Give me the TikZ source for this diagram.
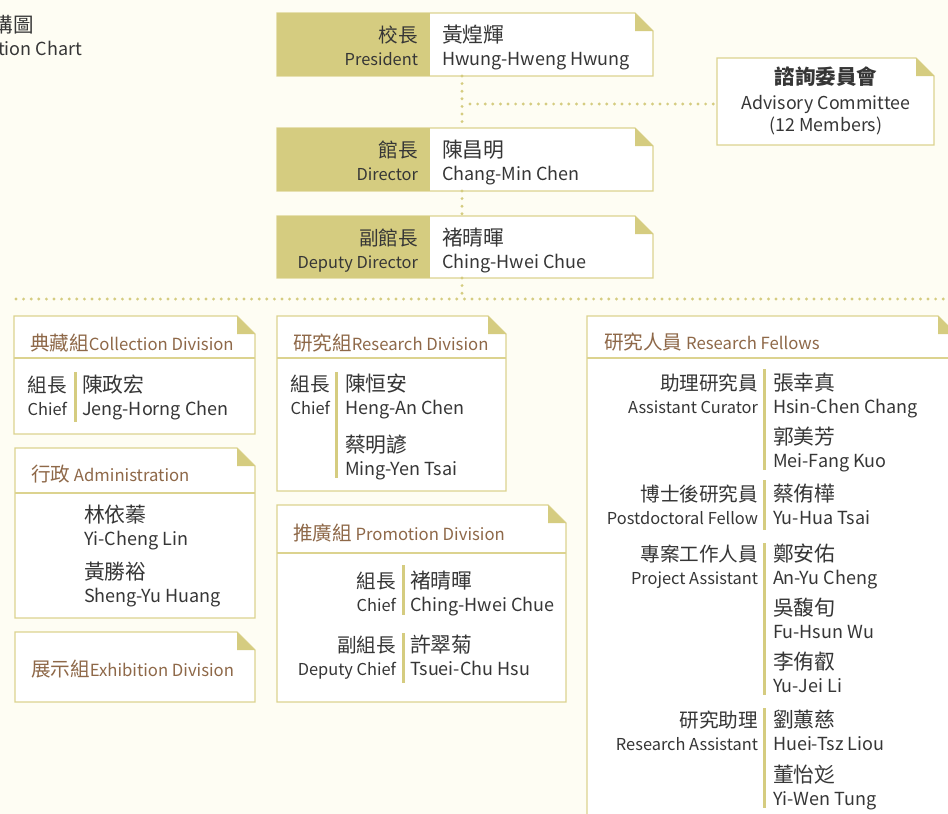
\documentclass[tikz,border=0pt]{standalone}
\usepackage{fontspec}
\setmainfont{Noto Sans CJK TC}
\definecolor{bg}{HTML}{FEFDF3}
\definecolor{khaki}{HTML}{D5CC80}
\definecolor{boxc}{HTML}{DCD38F}
\definecolor{ink}{HTML}{363636}
\definecolor{headc}{HTML}{8E6848}
\tikzset{
  boxnode/.style={rectangle, draw=none, inner sep=0pt, outer sep=0pt},
  boxline/.style={draw=boxc, line width=1.2pt},
  txt/.style={inner sep=0pt, outer sep=0pt, text=ink},
  roleZh/.style={txt, font=\fontsize{19.6}{21}\selectfont},
  roleEn/.style={txt, font=\fontsize{16.4}{18}\selectfont},
  nameZh/.style={txt, font=\fontsize{20.8}{22}\selectfont},
  nameEn/.style={txt, font=\fontsize{18}{20}\selectfont},
  headtxt/.style={inner sep=0pt, outer sep=0pt, text=headc, font=\fontsize{16.7}{18}\selectfont},
  dotline/.style={draw=khaki, line width=3.2pt, line cap=round, dash pattern=on 0pt off 7.6pt},
  bar/.style={draw=khaki, line width=3pt},
}
\newcommand\hzh[1]{{\fontsize{19.6}{20}\selectfont #1}}
\newcommand\dogbox[5]{%
  \node[boxnode, minimum width={(#4-#2)*1pt}, minimum height={(#5-#3)*1pt}, anchor=north west] (#1) at (#2,#3) {};
  \path[fill=white, boxline, line join=miter] (#1.north west) -- ([xshift=-18pt]#1.north east) -- ([yshift=-18pt]#1.north east) -- (#1.south east) -- (#1.south west) -- cycle;
  \fill[khaki] ([xshift=-18pt]#1.north east) -- ([xshift=-18pt,yshift=-18pt]#1.north east) -- ([yshift=-18pt]#1.north east) -- cycle;
}
\newcommand\rolepair[5]{%
  \node[roleZh, anchor=base east] (#1z) at (#2,#3) {#4};
  \node[roleEn, anchor=base east] (#1e) at (#2,{#3+23.5}) {#5};
}
\newcommand\namepair[5]{%
  \node[nameZh, anchor=base west] (#1z) at (#2,#3) {#4};
  \node[nameEn, anchor=base west] (#1e) at (#2,{#3+23.5}) {#5};
}
\begin{document}
\begin{tikzpicture}[x=1pt,y=-1pt]
\useasboundingbox (0,0) rectangle (948,814);
\clip (0,0) rectangle (948,814);
\fill[bg] (0,0) rectangle (948,814);

% title (cut at left edge, as in the reference)
\node[txt, anchor=base east, font=\fontsize{20.5}{22}\selectfont] (titzh) at (34,32) {組織架構圖};
\node[txt, anchor=base east, font=\fontsize{18}{20}\selectfont] (titen) at (82,55) {Organization Chart};

\coordinate (jadv) at (462,104);
\coordinate (jdiv) at (462,299);
\coordinate (hl) at (16,299);
\coordinate (hr) at (950,299);

% top boxes
\dogbox{pres}{277}{13}{653}{76}
\fill[khaki] (pres.north west) rectangle (430,76);
\rolepair{presr}{418}{42}{校長}{President}
\namepair{presn}{442}{42}{黃煌輝}{Hwung-Hweng Hwung}

\dogbox{dir}{277}{128}{653}{191}
\fill[khaki] (dir.north west) rectangle (430,191);
\rolepair{dirr}{418}{157}{館長}{Director}
\namepair{dirn}{442}{157}{陳昌明}{Chang-Min Chen}

\dogbox{dep}{277}{216}{653}{278}
\fill[khaki] (dep.north west) rectangle (430,278);
\rolepair{depr}{418}{245}{副館長}{Deputy Director}
\namepair{depn}{442}{245}{褚晴暉}{Ching-Hwei Chue}

\dogbox{adv}{717}{58}{934}{145}
\node[txt, anchor=base, font=\fontsize{20.5}{22}\selectfont\bfseries] (advz) at (826,84) {諮詢委員會};
\node[txt, anchor=base, font=\fontsize{17.8}{20}\selectfont] (adve) at (826,109) {Advisory Committee};
\node[txt, anchor=base, font=\fontsize{17.8}{20}\selectfont] (advm) at (826,131) {(12 Members)};

\draw[dotline] ([xshift=-3pt]pres.south) -- ([xshift=-3pt]dir.north);
\draw[dotline] ([xshift=-3pt]dir.south) -- ([xshift=-3pt]dep.north);
\draw[dotline] ([xshift=-3pt]dep.south) -- (jdiv);
\draw[dotline] ([xshift=8pt]jadv) -- ([yshift=-2.5pt,xshift=-3pt]adv.west);
\draw[dotline] (hl) -- (hr);

% Collection division
\dogbox{col}{14}{316}{255}{434}
\draw[boxline] (col.west |- 0,358) -- (col.east |- 0,358);
\node[headtxt, anchor=base west] (colh) at (30,350) {\hzh{典藏組}Collection Division};
\rolepair{colr}{67}{392}{組長}{Chief}
\draw[bar] (75,372) -- (75,422);
\namepair{coln}{82}{392}{陳政宏}{Jeng-Horng Chen}

% Administration
\dogbox{adm}{15}{448}{255}{618}
\draw[boxline] (adm.west |- 0,493) -- (adm.east |- 0,493);
\node[headtxt, anchor=base west] (admh) at (31,481) {\hzh{行政} Administration};
\namepair{admn1}{84}{522}{林依蓁}{Yi-Cheng Lin}
\namepair{admn2}{84}{579}{黃勝裕}{Sheng-Yu Huang}

% Exhibition
\dogbox{exh}{15}{632}{255}{702}
\node[headtxt, anchor=base west] (exhh) at (31,676) {\hzh{展示組}Exhibition Division};

% Research division
\dogbox{res}{277}{316}{506}{491}
\draw[boxline] (res.west |- 0,358) -- (res.east |- 0,358);
\node[headtxt, anchor=base west] (resh) at (293,350) {\hzh{研究組}Research Division};
\rolepair{resr}{330}{391}{組長}{Chief}
\draw[bar] (336,372) -- (336,478);
\namepair{resn1}{345}{391}{陳恒安}{Heng-An Chen}
\namepair{resn2}{345}{452}{蔡明諺}{Ming-Yen Tsai}

% Promotion division
\dogbox{pro}{277}{505}{566}{702}
\draw[boxline] (pro.west |- 0,553) -- (pro.east |- 0,553);
\node[headtxt, anchor=base west] (proh) at (293,540) {\hzh{推廣組} Promotion Division};
\rolepair{pror1}{396}{588}{組長}{Chief}
\draw[bar] (403,565) -- (403,615);
\namepair{pron1}{410}{588}{褚晴暉}{Ching-Hwei Chue}
\rolepair{pror2}{396}{652}{副組長}{Deputy Chief}
\draw[bar] (403,633) -- (403,683);
\namepair{pron2}{410}{652}{許翠菊}{Tsuei-Chu Hsu}

% Research fellows
\dogbox{fel}{587}{316}{956}{840}
\draw[boxline] (fel.west |- 0,358) -- (fel.east |- 0,358);
\node[headtxt, anchor=base west] (felh) at (604,349) {\hzh{研究人員} Research Fellows};
\rolepair{felr1}{758}{390}{助理研究員}{Assistant Curator}
\draw[bar] (764,369) -- (764,470);
\namepair{feln1}{773}{390}{張幸真}{Hsin-Chen Chang}
\namepair{feln2}{773}{444}{郭美芳}{Mei-Fang Kuo}
\rolepair{felr2}{758}{501}{博士後研究員}{Postdoctoral Fellow}
\draw[bar] (764,480) -- (764,530);
\namepair{feln3}{773}{501}{蔡侑樺}{Yu-Hua Tsai}
\rolepair{felr3}{758}{561}{專案工作人員}{Project Assistant}
\draw[bar] (764,543) -- (764,695);
\namepair{feln4}{773}{561}{鄭安佑}{An-Yu Cheng}
\namepair{feln5}{773}{615}{吳馥旬}{Fu-Hsun Wu}
\namepair{feln6}{773}{669}{李侑叡}{Yu-Jei Li}
\rolepair{felr4}{758}{727}{研究助理}{Research Assistant}
\draw[bar] (764,708) -- (764,808);
\namepair{feln7}{773}{727}{劉蕙慈}{Huei-Tsz Liou}
\namepair{feln8}{773}{782}{董怡彣}{Yi-Wen Tung}
\end{tikzpicture}
\end{document}
